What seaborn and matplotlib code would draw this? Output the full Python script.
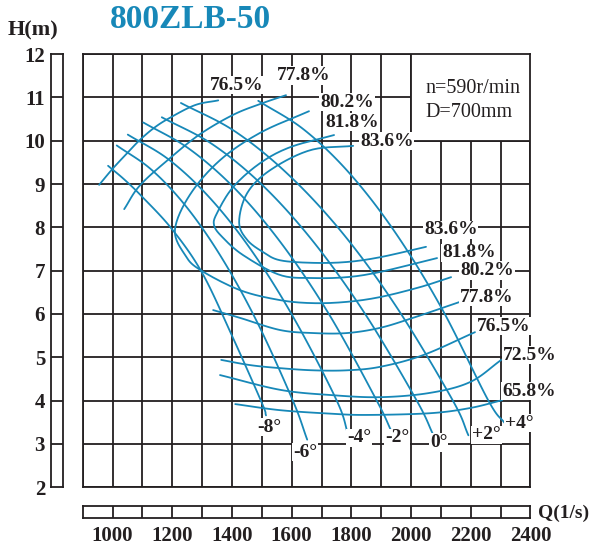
import numpy as np
import pandas as pd
import matplotlib
matplotlib.use('Agg')
import matplotlib.pyplot as plt
from matplotlib.patches import Rectangle
import seaborn as sns

# blade angle curves (Q in l/s, H in m)
blade_labels = ['-8°', '-6°', '-4°', '-2°', '0°', '+2°', '+4°']
blade_q = [
    [985, 1040, 1100, 1200, 1300, 1400, 1500, 1514],
    [1014, 1132, 1250, 1368, 1486, 1604, 1652],
    [1051, 1191, 1331, 1471, 1611, 1751, 1790],
    [1103, 1259, 1416, 1572, 1729, 1885, 1935],
    [1165, 1336, 1507, 1677, 1848, 2019, 2075],
    [1229, 1411, 1593, 1776, 1958, 2140, 2192],
    [1488, 1642, 1796, 1951, 2105, 2259, 2315],
]
blade_h = [
    [9.42, 9.10, 8.70, 7.95, 6.95, 5.50, 3.95, 3.66],
    [9.89, 9.32, 8.45, 7.27, 5.79, 4.00, 3.10],
    [10.14, 9.55, 8.64, 7.41, 5.86, 4.00, 3.20],
    [10.42, 9.80, 8.85, 7.57, 5.95, 4.00, 3.28],
    [10.54, 9.91, 8.94, 7.63, 5.98, 4.00, 3.20],
    [10.87, 10.21, 9.19, 7.82, 6.09, 4.00, 3.20],
    [10.92, 10.25, 9.23, 7.84, 6.10, 4.00, 3.47],
]
blade_label_q = [1484, 1605, 1785, 1913, 2063, 2204, 2315]
blade_label_h = [3.39, 2.81, 3.14, 3.14, 3.03, 3.21, 3.48]

# efficiency contours
eff_names = ['76.5 up', '77.8 up', '80.2', '81.8', '83.6',
             '77.8 low', '76.5 low', '72.5', '65.8']
eff_q = [
    [955, 1000, 1050, 1092, 1140, 1190, 1276, 1354],
    [1039, 1092, 1193, 1293, 1405, 1500, 1581],
    [1658, 1494, 1360, 1259, 1209, 1243, 1293, 1427, 1561, 1672, 1785, 1896, 2030, 2134],
    [1742, 1595, 1494, 1404, 1350, 1340, 1367, 1437, 1561, 1672, 1785, 1896, 2087],
    [1806, 1662, 1528, 1451, 1424, 1451, 1504, 1561, 1672, 1785, 1896, 2050],
    [1337, 1427, 1561, 1672, 1785, 1896, 2006, 2164],
    [1364, 1461, 1561, 1672, 1785, 1896, 2040, 2214],
    [1360, 1561, 1729, 1896, 2064, 2198, 2302],
    [1411, 1561, 1729, 1850, 2064, 2198, 2305],
]
eff_h = [
    [8.98, 9.35, 9.72, 10.02, 10.30, 10.52, 10.82, 10.93],
    [8.42, 8.97, 9.60, 10.15, 10.60, 10.86, 11.05],
    [10.68, 10.18, 9.55, 8.75, 7.94, 7.36, 7.02, 6.55, 6.32, 6.25, 6.28, 6.39, 6.62, 6.85],
    [10.13, 9.85, 9.48, 8.93, 8.33, 8.05, 7.78, 7.36, 6.90, 6.83, 6.85, 6.97, 7.29],
    [9.88, 9.78, 9.32, 8.79, 8.12, 7.71, 7.43, 7.24, 7.18, 7.20, 7.31, 7.55],
    [6.09, 5.91, 5.63, 5.56, 5.56, 5.68, 5.91, 6.28],
    [4.94, 4.82, 4.75, 4.70, 4.70, 4.78, 5.05, 5.58],
    [4.59, 4.25, 4.13, 4.08, 4.18, 4.43, 4.94],
    [3.92, 3.78, 3.70, 3.67, 3.71, 3.83, 4.01],
]

# efficiency labels
eff_labels = ['76.5%', '77.8%', '80.2%', '81.8%', '83.6%',
              '83.6%', '81.8%', '80.2%', '77.8%', '76.5%', '72.5%', '65.8%']
eff_label_q = [1327, 1551, 1695, 1712, 1829, 2043, 2104, 2164, 2164, 2221, 2308, 2305]
eff_label_h = [11.28, 11.51, 10.89, 10.43, 9.99, 7.94, 7.41, 7.01, 6.39, 5.72, 5.05, 4.22]

q_ticks = [1000, 1200, 1400, 1600, 1800, 2000, 2200, 2400]
h_ticks = [2, 3, 4, 5, 6, 7, 8, 9, 10, 11, 12]

BLUE = '#1788b8'
INK = '#231f20'


def smooth(xs, ys, n=16):
    # catmull-rom through the read points, only for drawing
    p = np.column_stack([xs, ys]).astype(float)
    P = np.vstack([2 * p[0] - p[1], p, 2 * p[-1] - p[-2]])
    t = np.linspace(0, 1, n, endpoint=False)[:, None]
    out = []
    for i in range(len(p) - 1):
        p0, p1, p2, p3 = P[i], P[i + 1], P[i + 2], P[i + 3]
        out.append(0.5 * (2 * p1 + (-p0 + p2) * t
                          + (2 * p0 - 5 * p1 + 4 * p2 - p3) * t ** 2
                          + (-p0 + 3 * p1 - 3 * p2 + p3) * t ** 3))
    out.append(p[-1:])
    return np.vstack(out)


def build_frame():
    rows = []
    curves = list(zip(blade_labels, blade_q, blade_h)) + list(zip(eff_names, eff_q, eff_h))
    for name, qs, hs in curves:
        pts = smooth(qs, hs)
        for i, (q, h) in enumerate(pts):
            rows.append({'curve': name, 'order': i, 'Q': q, 'H': h})
    return pd.DataFrame(rows)


def main():
    sns.set_theme(style='white')
    plt.rcParams['font.family'] = ['Liberation Serif', 'DejaVu Serif']

    fig = plt.figure(figsize=(5.92, 5.49), dpi=100)
    ax = fig.add_axes([0.1397, 0.1124, 0.7564, 0.7892])
    ax_s = fig.add_axes([0.0856, 0.1124, 0.0213, 0.7892])
    ax_r = fig.add_axes([0.1397, 0.0565, 0.7564, 0.0219])

    # main grid
    ax.set_xlim(900, 2400)
    ax.set_ylim(2, 12)
    ax.set_xticks(range(900, 2401, 100))
    ax.set_yticks(h_ticks)
    ax.tick_params(length=0, labelbottom=False, labelleft=False)
    ax.grid(True, color=INK, lw=1.3)
    ax.set_axisbelow(True)
    for s in ax.spines.values():
        s.set_color(INK)
        s.set_linewidth(1.3)

    df = build_frame()
    sns.lineplot(data=df, x='Q', y='H', units='curve', estimator=None, sort=False,
                 color=BLUE, linewidth=1.3, legend=False, ax=ax)
    ax.set_xlabel('')
    ax.set_ylabel('')

    # info box
    ax.add_patch(Rectangle((2000, 10), 400, 2, facecolor='white', edgecolor=INK,
                           lw=1.3, zorder=4))
    ax.text(2047, 11.21, 'n=590r/min', fontsize=14.5, color=INK, va='center', zorder=5)
    ax.text(2047, 10.64, 'D=700mm', fontsize=14.5, color=INK, va='center', zorder=5)

    box = dict(facecolor='white', edgecolor='none', pad=0.6)
    for txt, q, h in zip(eff_labels, eff_label_q, eff_label_h):
        ax.text(q, h, txt, fontsize=14, fontweight='bold', color=INK,
                ha='left', va='center', bbox=box, zorder=5)
    for txt, q, h in zip(blade_labels, blade_label_q, blade_label_h):
        ax.text(q, h, txt, fontsize=14, fontweight='bold', color=INK,
                ha='left', va='center', bbox=box, zorder=5)

    # left strip with H ticks
    ax_s.set_xlim(0, 1)
    ax_s.set_ylim(2, 12)
    ax_s.set_xticks([])
    ax_s.set_yticks(h_ticks)
    ax_s.set_yticklabels([str(v) for v in h_ticks], fontsize=15, fontweight='bold', color=INK)
    ax_s.tick_params(axis='y', length=0, pad=4)
    for v in h_ticks[1:-1]:
        ax_s.axhline(v, color=INK, lw=1.3)
    for s in ax_s.spines.values():
        s.set_color(INK)
        s.set_linewidth(1.3)

    # bottom ruler with Q ticks
    ax_r.set_xlim(900, 2400)
    ax_r.set_ylim(0, 1)
    ax_r.set_yticks([])
    ax_r.set_xticks(q_ticks)
    ax_r.set_xticklabels([str(v) for v in q_ticks], fontsize=15, fontweight='bold', color=INK)
    ax_r.tick_params(axis='x', length=0, pad=6)
    for v in range(1000, 2400, 100):
        ax_r.axvline(v, color=INK, lw=1.3)
    for s in ax_r.spines.values():
        s.set_color(INK)
        s.set_linewidth(1.3)

    fig.text(110 / 592, 1 - 20 / 549, '800ZLB-50', fontsize=24, fontweight='bold',
             color=BLUE, va='center', ha='left')
    fig.text(8 / 592, 1 - 30 / 549, 'H(m)', fontsize=16, fontweight='bold',
             color=INK, va='center', ha='left')
    fig.text(538 / 592, 1 - 513 / 549, 'Q(1/s)', fontsize=14, fontweight='bold',
             color=INK, va='center', ha='left')

    fig.savefig('out.png', dpi=100)


if __name__ == '__main__':
    main()
